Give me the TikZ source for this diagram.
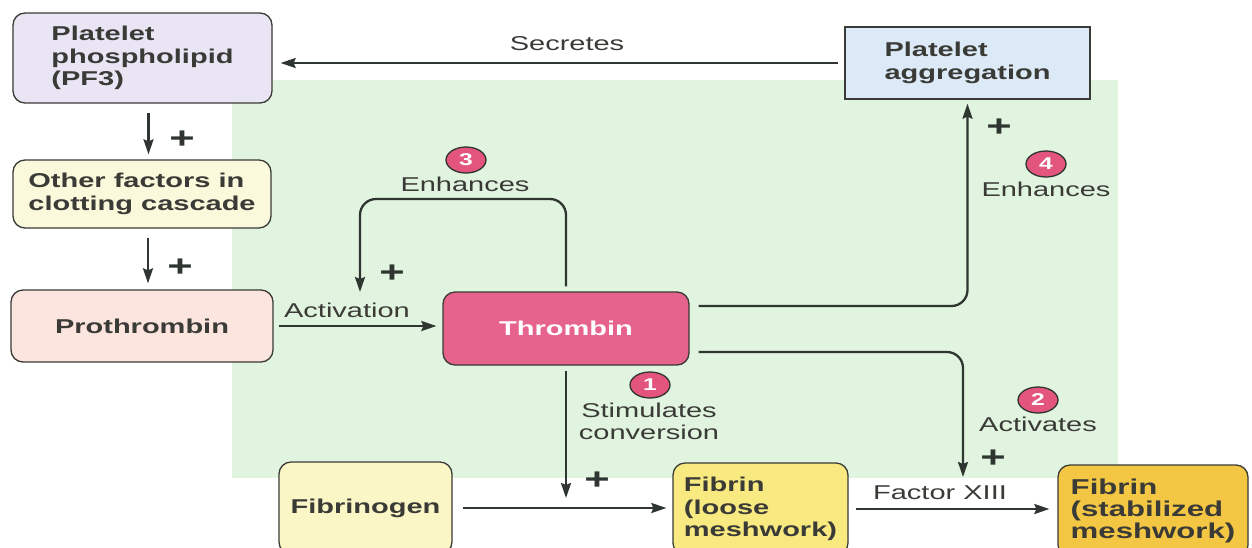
\documentclass[tikz,border=0pt]{standalone}
\usepackage{fontspec}
\setmainfont[FakeStretch=1.45]{Liberation Sans}
\usetikzlibrary{arrows.meta,shapes.geometric}
\definecolor{inkc}{HTML}{3A3A36}
\definecolor{linec}{HTML}{2F3530}
\definecolor{bgc}{HTML}{E0F4DF}
\definecolor{pfc}{HTML}{E9E5F4}
\definecolor{othc}{HTML}{FBF9DC}
\definecolor{proc}{HTML}{FCE5DE}
\definecolor{thrc}{HTML}{E5638C}
\definecolor{pac}{HTML}{DCE9F6}
\definecolor{fgnc}{HTML}{FAF6C6}
\definecolor{flc}{HTML}{F8EA80}
\definecolor{fsc}{HTML}{F3C744}
\definecolor{badgec}{HTML}{E4557E}

\begin{document}
\begin{tikzpicture}[
    x=1pt, y=-1pt,
    box/.style={draw=inkc, line width=1.3pt, rounded corners=12pt, align=left,
        text=inkc, inner sep=0pt, font=\fontsize{20}{22.5}\selectfont\bfseries},
    flow/.style={linec, line width=2.3pt,
        -{Stealth[length=15pt,width=10pt,inset=2pt]}},
    lbl/.style={text=inkc, align=center, inner sep=0pt,
        font=\fontsize{20}{22}\selectfont},
    plus/.style={text=linec, inner sep=0pt,
        font=\fontsize{30}{30}\selectfont\bfseries},
    badge/.style={ellipse, draw=linec, line width=1.3pt, fill=badgec,
        text=white, minimum width=40pt, minimum height=26pt, inner sep=0pt,
        font=\fontsize{17}{17}\selectfont\bfseries}
]
    \clip (0,0) rectangle (1252,547);
    \fill[white] (0,0) rectangle (1252,547);
    \fill[bgc] (232,80) rectangle (1118,478);

    % boxes
    \node[box, fill=pfc, minimum width=259pt, minimum height=90pt]
        (pf) at (142.5,58) {Platelet\\phospholipid\\(PF3)};
    \node[box, fill=othc, minimum width=258pt, minimum height=68pt]
        (oth) at (142,194) {Other factors in\\clotting cascade};
    \node[box, fill=proc, minimum width=262pt, minimum height=72pt]
        (pro) at (142,326) {Prothrombin};
    \node[box, fill=thrc, text=white, minimum width=246pt, minimum height=73pt]
        (thr) at (566,328.5) {Thrombin};
    \node[box, fill=pac, sharp corners, minimum width=245pt, minimum height=72pt]
        (pa) at (967.5,63) {Platelet\\aggregation};
    \node[box, fill=fgnc, minimum width=173pt, minimum height=92pt]
        (fgn) at (365.5,508) {Fibrinogen};
    \node[box, fill=flc, minimum width=175pt, minimum height=92pt]
        (fl) at (760.5,509) {Fibrin\\(loose\\meshwork)};
    \node[box, fill=fsc, minimum width=190pt, minimum height=92pt,
        font=\fontsize{21.5}{22}\selectfont\bfseries]
        (fs) at (1153,511) {Fibrin\\(stabilized\\meshwork)};

    % free ends
    \coordinate (looptop) at (360,199);
    \coordinate (loopend) at (360,292);
    \coordinate (stimend) at (566,498);
    \coordinate (actend) at (963,477);

    % connectors
    \draw[flow, shorten <=6pt, shorten >=8pt] (pa.west) -- (pf.east |- pa.west);
    \draw[flow, shorten <=9pt, shorten >=5pt]
        ([xshift=6pt]pf.south) -- ([xshift=6pt]pf.south |- oth.north);
    \draw[flow, shorten <=9pt, shorten >=6pt]
        ([xshift=6pt]oth.south) -- ([xshift=6pt]oth.south |- pro.north);
    \draw[flow, shorten <=5pt, shorten >=6pt] (pro.east) -- (pro.east -| thr.west);
    \draw[flow, rounded corners=16pt, shorten <=5pt]
        (thr.north) |- (looptop) -- (loopend);
    \draw[flow, rounded corners=16pt, shorten <=9pt, shorten >=4pt]
        ([yshift=22.5pt]thr.east) -| (pa.south);
    \draw[flow, rounded corners=16pt, shorten <=9pt]
        ([yshift=-23.5pt]thr.east) -| (actend);
    \draw[flow, shorten <=5pt] (thr.south) -- (stimend);
    \draw[flow, shorten <=10pt, shorten >=6pt] (fgn.east) -- (fgn.east -| fl.west);
    \draw[flow, shorten <=7pt, shorten >=8pt] (fl.east) -- (fl.east -| fs.west);

    % labels
    \node[lbl] (sec) at (567,44) {Secretes};
    \node[lbl] (act) at (347,310) {Activation};
    \node[lbl] (enh3) at (465,184) {Enhances};
    \node[lbl] (enh4) at (1046,189) {Enhances};
    \node[lbl] (stim) at (649,421) {Stimulates\\conversion};
    \node[lbl] (actv) at (1038,424) {Activates};
    \node[lbl] (fxiii) at (940,493) {Factor XIII};

    % badges
    \node[badge] (b1) at (650,385) {1};
    \node[badge] (b2) at (1038,400) {2};
    \node[badge] (b3) at (466,160) {3};
    \node[badge] (b4) at (1046,164) {4};

    % plus signs
    \node[plus] (p1) at (182,140) {+};
    \node[plus] (p2) at (180,268) {+};
    \node[plus] (p3) at (392,274) {+};
    \node[plus] (p4) at (999,128) {+};
    \node[plus] (p5) at (597,481) {+};
    \node[plus] (p6) at (993,459) {+};
\end{tikzpicture}
\end{document}
